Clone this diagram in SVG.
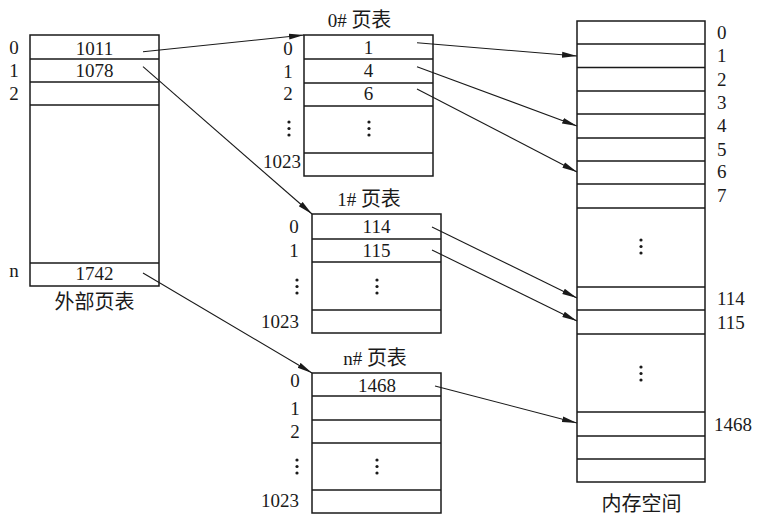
<svg xmlns="http://www.w3.org/2000/svg" width="773" height="523" viewBox="0 0 773 523">
<style>
.box{fill:#fff;stroke:#1a1a1a;stroke-width:1.5}
.ln{stroke:#1a1a1a;stroke-width:1.5;fill:none}
text{font-family:"Liberation Serif","Noto Sans CJK SC",serif;font-size:19px;fill:#1a1a1a}
.m{text-anchor:middle}
.e{text-anchor:end}
.cn{font-size:20px}
.dot{fill:#1a1a1a}
.arr{stroke:#1a1a1a;stroke-width:1.1;fill:none;marker-end:url(#ah)}
</style>
<defs>
<marker id="ah" markerUnits="userSpaceOnUse" markerWidth="16" markerHeight="8" refX="15" refY="3.5" orient="auto">
<path d="M0,0.6 L15,3.5 L0,6.4 z" fill="#1a1a1a"/>
</marker>
<g id="vd"><circle cx="0" cy="0" r="1.6"/><circle cx="0" cy="6.5" r="1.6"/><circle cx="0" cy="13" r="1.6"/></g>
</defs>
<rect width="773" height="523" fill="#fff"/>

<g id="outer">
<rect class="box" x="30" y="35" width="129" height="251"/>
<path class="ln" d="M30,59H159M30,82H159M30,105H159M30,263H159"/>
<text class="m" x="14" y="53.5">0</text>
<text class="m" x="14" y="77">1</text>
<text class="m" x="14" y="100">2</text>
<text class="m" x="14" y="277">n</text>
<text class="m" x="94.5" y="54.5">1011</text>
<text class="m" x="94.5" y="77">1078</text>
<text class="m" x="94.5" y="280">1742</text>
<text class="m cn" x="94.5" y="309">外部页表</text>
</g>

<g id="pt0">
<rect class="box" x="304" y="35" width="129" height="141"/>
<path class="ln" d="M304,59H433M304,83H433M304,106H433M304,153H433"/>
<text class="m" x="359.5" y="27">0# <tspan class="cn">页表</tspan></text>
<text class="m" x="288" y="55">0</text>
<text class="m" x="288" y="78">1</text>
<text class="m" x="288" y="100">2</text>
<use href="#vd" x="289" y="122" class="dot"/>
<text class="e" x="301" y="168">1023</text>
<text class="m" x="368.5" y="53.5">1</text>
<text class="m" x="368.5" y="77">4</text>
<text class="m" x="368.5" y="100">6</text>
<use href="#vd" x="369" y="122" class="dot"/>
</g>

<g id="pt1">
<rect class="box" x="312" y="214" width="129" height="119"/>
<path class="ln" d="M312,239H441M312,262H441M312,310H441"/>
<text class="m" x="369" y="206">1# <tspan class="cn">页表</tspan></text>
<text class="m" x="294" y="233">0</text>
<text class="m" x="294" y="257">1</text>
<use href="#vd" x="297" y="280" class="dot"/>
<text class="e" x="299" y="328">1023</text>
<text class="m" x="376.5" y="233">114</text>
<text class="m" x="376.5" y="257">115</text>
<use href="#vd" x="377" y="280" class="dot"/>
</g>

<g id="ptn">
<rect class="box" x="312" y="373" width="129" height="140"/>
<path class="ln" d="M312,396H441M312,420H441M312,443H441M312,490H441"/>
<text class="m" x="375" y="365">n# <tspan class="cn">页表</tspan></text>
<text class="m" x="295" y="387">0</text>
<text class="m" x="295" y="415">1</text>
<text class="m" x="295" y="438">2</text>
<use href="#vd" x="297" y="460" class="dot"/>
<text class="e" x="299" y="507">1023</text>
<text class="m" x="377" y="392">1468</text>
<use href="#vd" x="377" y="460" class="dot"/>
</g>

<g id="mem">
<rect class="box" x="577" y="21" width="128" height="461"/>
<path class="ln" d="M577,44H705M577,67.5H705M577,91H705M577,114H705M577,138H705M577,161H705M577,184H705M577,208H705M577,287H705M577,310H705M577,334H705M577,412H705M577,436H705M577,459H705"/>
<text x="717" y="38.5">0</text>
<text x="717" y="62">1</text>
<text x="717" y="86">2</text>
<text x="717" y="109">3</text>
<text x="717" y="132">4</text>
<text x="717" y="156">5</text>
<text x="717" y="178">6</text>
<text x="717" y="202">7</text>
<use href="#vd" x="641" y="240" class="dot"/>
<text x="717" y="305">114</text>
<text x="717" y="328.5">115</text>
<use href="#vd" x="641" y="367" class="dot"/>
<text x="714" y="431">1468</text>
<text class="m cn" x="641.5" y="511">内存空间</text>
</g>

<g id="connectors">
<path class="arr" d="M143,51.7L304,35"/>
<path class="arr" d="M143,66.7L312,214"/>
<path class="arr" d="M143,273L312,373"/>
<path class="arr" d="M417,42.7L577,56"/>
<path class="arr" d="M417,66.7L577,126"/>
<path class="arr" d="M417,89L577,172"/>
<path class="arr" d="M432,227L577,298"/>
<path class="arr" d="M432,250L577,321"/>
<path class="arr" d="M435,386L577,423"/>
</g>
</svg>
